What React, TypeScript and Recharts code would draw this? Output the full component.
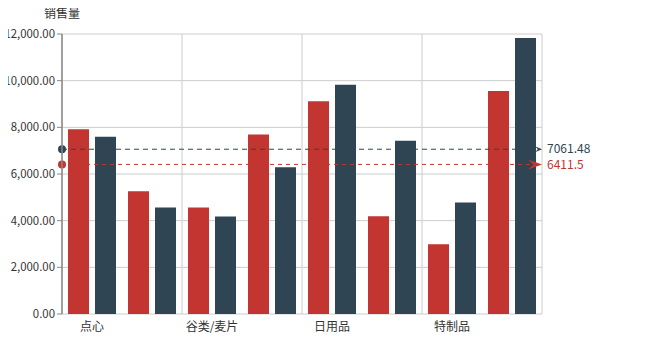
import { BarChart, Bar, XAxis, YAxis, CartesianGrid, ReferenceLine, Label } from "recharts";

const categories = ["点心", "海鲜", "谷类/麦片", "肉/家禽", "日用品", "调味品", "特制品", "饮料"];
const salesA = [7920, 5260, 4560, 7690, 9120, 4190, 2990, 9562];
const salesB = [7600, 4560, 4180, 6290, 9830, 7420, 4780, 11831.84];
const yTicks = [0, 2000, 4000, 6000, 8000, 10000, 12000];
const boundaryTicks = [0, 2, 4, 6, 8];

const RED = "#c23531";
const DARK = "#2f4554";
const AXIS = "#888";
const TEXT = "#333";

const data = categories.map((name, i) => ({
  name,
  idx: i,
  a: salesA[i],
  b: salesB[i],
}));

const average = (arr: number[]) =>
  Math.round((arr.reduce((s, v) => s + v, 0) / arr.length) * 100) / 100;

const avgA = average(salesA);
const avgB = average(salesB);

const fmt = (v: number) =>
  v.toLocaleString("en-US", { minimumFractionDigits: 2, maximumFractionDigits: 2 });

const markShape = (color: string, dash: string, arrowLen: number, arrowHalf: number) =>
  (props: any) => {
    const { x1, y1, x2, y2 } = props;
    return (
      <g>
        <line
          x1={x1}
          y1={y1}
          x2={x2 - arrowLen + 2}
          y2={y2}
          stroke={color}
          strokeWidth={1}
          strokeDasharray={dash}
        />
        <circle cx={x1} cy={y1} r={4} fill={color} />
        <path
          d={`M${x2},${y2} L${x2 - arrowLen},${y2 - arrowHalf} L${x2 - arrowLen * 0.6},${y2} L${x2 - arrowLen},${y2 + arrowHalf} Z`}
          fill={color}
        />
      </g>
    );
  };

export default function App() {
  return (
    <div style={{ margin: "-8px 0 0 -8px", fontFamily: '"Noto Sans CJK SC", "Noto Sans", sans-serif' }}>
      <BarChart
        width={603}
        height={351}
        data={data}
        margin={{ top: 34, right: 61, left: 0, bottom: 7 }}
        barCategoryGap={6}
        barGap={6}
      >
        <CartesianGrid
          xAxisId="grid"
          stroke="#ccc"
          strokeDasharray=""
        />
        <XAxis
          xAxisId="grid"
          dataKey="idx"
          type="number"
          domain={[0, 8]}
          ticks={boundaryTicks}
          allowDataOverflow
          height={0}
          tickFormatter={() => ""}
          tickSize={5}
          tickLine={{ stroke: AXIS }}
          axisLine={{ stroke: AXIS, strokeWidth: 1.5 }}
        >
          <Label
            content={(p: any) => {
              const vb = p.viewBox || {};
              return (
                <text x={vb.x + vb.width + 15} y={vb.y} dy="0.35em" fontSize={12} fill={TEXT}>
                  产品类别
                </text>
              );
            }}
          />
        </XAxis>
        <XAxis
          xAxisId="cat"
          dataKey="name"
          interval={1}
          height={30}
          tickLine={false}
          axisLine={false}
          tick={{ fontSize: 12, fill: TEXT }}
        />
        <YAxis
          width={62}
          domain={[0, 12000]}
          ticks={yTicks}
          tickFormatter={fmt}
          tickSize={5}
          tickMargin={2}
          tick={{ fontSize: 11.4, fill: TEXT }}
          tickLine={{ stroke: AXIS }}
          axisLine={{ stroke: AXIS, strokeWidth: 1.5 }}
        >
          <Label
            content={(p: any) => {
              const vb = p.viewBox || {};
              return (
                <text x={vb.x + vb.width} y={vb.y - 16} textAnchor="middle" fontSize={12} fill={TEXT}>
                  销售量
                </text>
              );
            }}
          />
        </YAxis>
        <Bar xAxisId="cat" dataKey="a" fill={RED} isAnimationActive={false} />
        <Bar xAxisId="cat" dataKey="b" fill={DARK} isAnimationActive={false} />
        <ReferenceLine
          xAxisId="cat"
          y={avgB}
          shape={markShape(DARK, "5 4", 7, 3)}
          label={{ value: String(avgB), position: "right", offset: 5, fill: DARK, fontSize: 12 }}
        />
        <ReferenceLine
          xAxisId="cat"
          y={avgA}
          shape={markShape(RED, "4 4", 14, 5)}
          label={{ value: String(avgA), position: "right", offset: 5, fill: RED, fontSize: 12 }}
        />
      </BarChart>
    </div>
  );
}
